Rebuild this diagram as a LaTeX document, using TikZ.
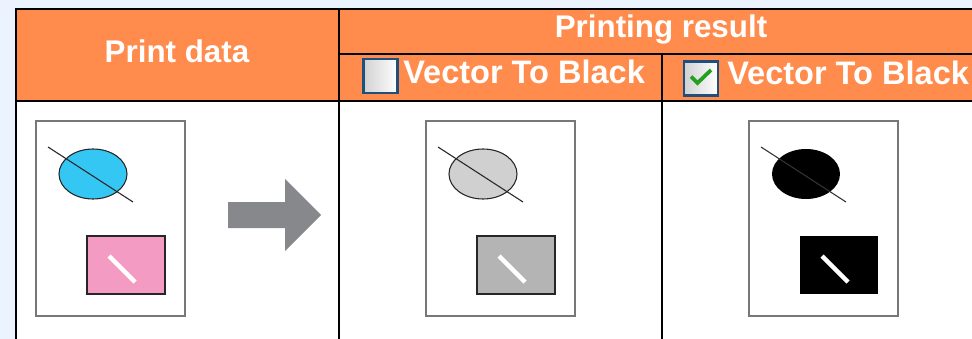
\documentclass[tikz,border=0pt]{standalone}
\usepackage{fontspec}
\setmainfont{Liberation Sans}
\usepackage{tikz}
\usetikzlibrary{positioning}
\definecolor{pagebg}{HTML}{EBF4FE}
\definecolor{headorange}{HTML}{FF8B4C}
\definecolor{boxblue}{HTML}{1F4F7D}
\definecolor{tickgreen}{HTML}{23A01F}
\definecolor{framegray}{HTML}{77777A}
\definecolor{arrowgray}{HTML}{87888B}
\definecolor{inkcyan}{HTML}{35C7F4}
\definecolor{inkpink}{HTML}{F49BC4}
\definecolor{graylight}{HTML}{D0D0D0}
\definecolor{graymid}{HTML}{B4B4B4}

\begin{document}
\begin{tikzpicture}[
  x=0.75pt, y=-0.75pt,
  head/.style={text=white, font=\fontsize{23.5}{28}\selectfont\bfseries, inner sep=0pt},
  subhead/.style={head, font=\fontsize{24.4}{28}\selectfont\bfseries},
  checkbox/.style={rectangle, draw=boxblue, line width=1.8pt, left color=black!18, right color=white, minimum size=25.5pt, inner sep=0pt},
  rule/.style={draw=black, line width=1.5pt},
  frame/.style={draw=framegray, line width=1.9pt, fill=white},
  outline/.style={draw=black!85, line width=0.8pt},
  bar/.style={draw=white, line width=3.4pt}
]
\useasboundingbox (0,0) rectangle (972,339);
\clip (0,0) rectangle (972,339);
\fill[pagebg] (0,0) rectangle (972,339);

% table
\fill[headorange] (16,9) rectangle (990,101);
\fill[white] (16,101) rectangle (990,345);
\draw[rule] (16,345) -- (16,9) -- (990,9);
\draw[rule] (16,101) -- (990,101);
\draw[rule] (339,54) -- (990,54);
\draw[rule] (339,9) -- (339,345);
\draw[rule] (662,54) -- (662,345);

% header texts
\node[head, anchor=base] (hdrdata) at (177,62) {Print data};
\node[head, anchor=base] (hdrresult) at (661,37) {Printing result};
\node[checkbox] (chkoff) at (380.5,76) {};
\node[subhead, anchor=base west] (lbloff) at (403,83) {Vector To Black};
\node[checkbox] (chkon) at (701,78.5) {};
\draw[tickgreen, line width=2.8pt] (691,76.5) -- (697.5,83) -- (711,70);
\node[subhead, anchor=base west] (lblon) at (727,84) {Vector To Black};

% print data
\draw[frame] (36,121) rectangle (185,316);
\draw[outline, fill=inkcyan] (93,174) ellipse [x radius=25.5pt, y radius=18.75pt];
\draw[outline] (48,147) -- (133,202);
\draw[outline, fill=inkpink] (87,236) rectangle (165,294);
\draw[bar] (109,256) -- (135,282);

% arrow
\fill[arrowgray] (228,202) -- (285,202) -- (285,179) -- (321,215) -- (285,251) -- (285,228) -- (228,228) -- cycle;

% result without vector to black
\begin{scope}[shift={(390,0)}]
\draw[frame] (36,121) rectangle (185,316);
\draw[outline, fill=graylight] (93,174) ellipse [x radius=25.5pt, y radius=18.75pt];
\draw[outline] (48,147) -- (133,202);
\draw[outline, fill=graymid] (87,236) rectangle (165,294);
\draw[bar] (109,256) -- (135,282);
\end{scope}

% result with vector to black
\begin{scope}[shift={(713,0)}]
\draw[frame] (36,121) rectangle (185,316);
\fill[black] (93,174) ellipse [x radius=25.5pt, y radius=18.75pt];
\draw[draw=black!80, line width=0.8pt] (48,147) -- (133,202);
\fill[black] (87,236) rectangle (165,294);
\draw[bar] (109,256) -- (135,282);
\end{scope}
\end{tikzpicture}
\end{document}
